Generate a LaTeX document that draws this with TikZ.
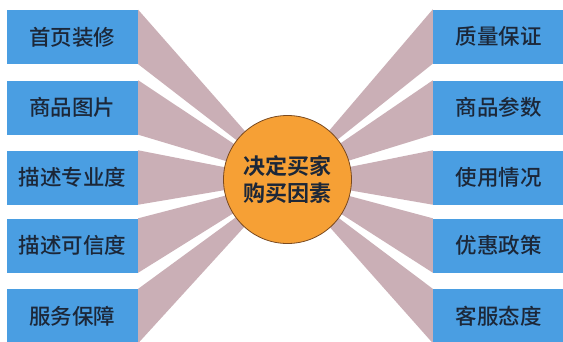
\documentclass[tikz,border=0pt]{standalone}
\usepackage{fontspec}
\usetikzlibrary{backgrounds}
\newfontfamily\cjk{Noto Sans CJK SC Medium}
\newfontfamily\cjkb{Noto Sans CJK SC Bold}
\definecolor{boxblue}{HTML}{4A9EE2}
\definecolor{raygray}{HTML}{CAAFB6}
\definecolor{txt}{HTML}{1C2738}
\definecolor{circorange}{HTML}{F6A035}
\definecolor{circborder}{HTML}{7A4A20}
\begin{document}
\begin{tikzpicture}[x=1pt,y=-1pt,
  factor/.style={rectangle, fill=boxblue, minimum width=131pt, minimum height=54pt, inner sep=0pt, font=\cjk\fontsize{21.5}{24}\selectfont, text=txt},
  ray/.style={fill=raygray, draw=none},
  hub/.style={circle, fill=circorange, draw=circborder, line width=0.8pt, minimum size=128pt, inner sep=0pt, align=center, font=\cjkb\fontsize{22}{27}\selectfont, text=txt}]
\clip (0,0) rectangle (563,341);
\node[hub] (c) at (287.5,179.5) {决定买家\\购买因素};
\node[factor] (l1) at (72.5,37) {首页装修};
\node[factor] (l2) at (72.5,107.5) {商品图片};
\node[factor] (l3) at (72.5,177.5) {描述专业度};
\node[factor] (l4) at (72.5,245.5) {描述可信度};
\node[factor] (l5) at (72.5,316) {服务保障};
\node[factor] (r1) at (498.5,36.5) {质量保证};
\node[factor] (r2) at (498.5,107.5) {商品参数};
\node[factor] (r3) at (498.5,177.5) {使用情况};
\node[factor] (r4) at (498.5,245.5) {优惠政策};
\node[factor] (r5) at (498.5,316) {客服态度};
\begin{scope}[on background layer]
\fill[white] (0,0) rectangle (563,341);
\foreach \n in {l1,l2,l3,l4,l5}{
  \path[ray] (\n.north east) -- (\n.south east) -- (c.center) -- cycle;
}
\foreach \n in {r1,r2,r3,r4,r5}{
  \path[ray] (\n.north west) -- (\n.south west) -- (c.center) -- cycle;
}
\end{scope}
\end{tikzpicture}
\end{document}
